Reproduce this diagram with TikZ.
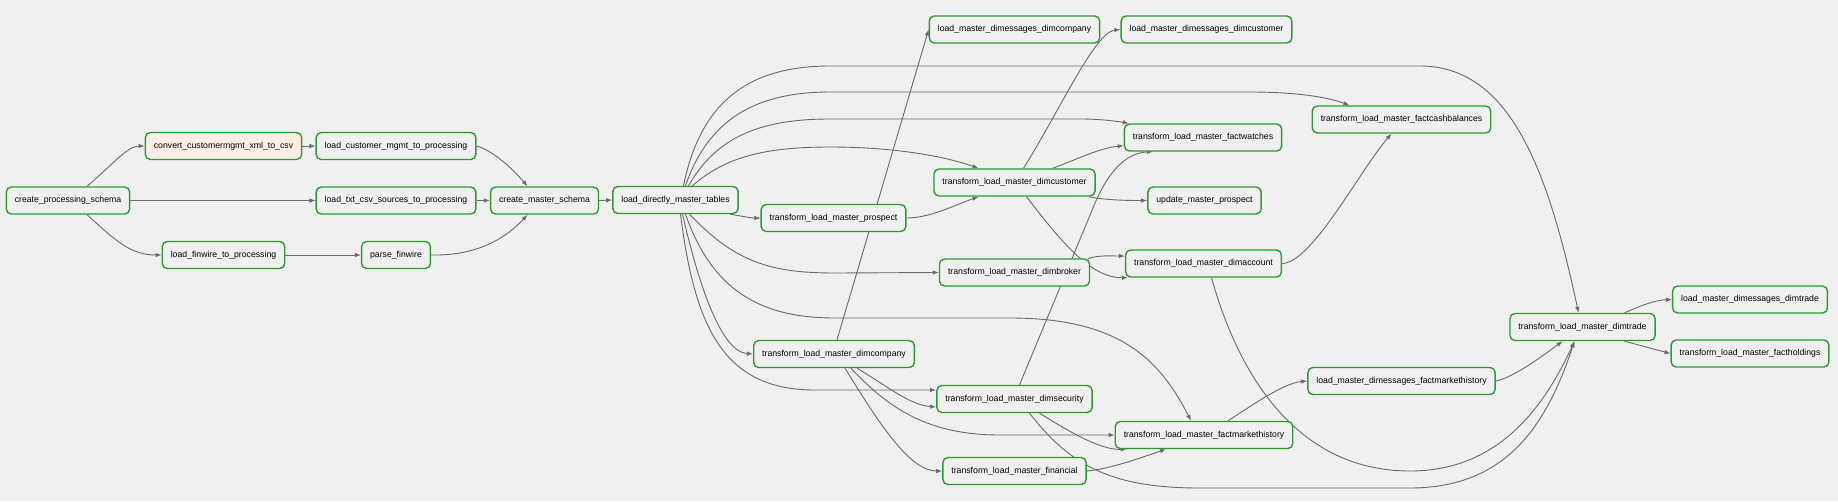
\documentclass[tikz,border=0pt]{standalone}
\usepackage{fontspec}
\setmainfont{Liberation Sans}
\usetikzlibrary{calc,arrows.meta,backgrounds}
\definecolor{bgc}{HTML}{F0F0F0}
\definecolor{nodefill}{HTML}{F0F0F0}
\definecolor{pinkfill}{HTML}{FDEFE6}
\definecolor{okgreen}{HTML}{2E9B2E}
\definecolor{edgec}{HTML}{6A6A6A}
\begin{document}
\begin{tikzpicture}[x=1pt,y=-1pt,
 box/.style={draw=okgreen,line width=1.4pt,rounded corners=5pt,fill=nodefill,minimum height=27pt,inner xsep=8.5pt,inner ysep=0pt,font=\fontsize{8.7}{10}\selectfont,text=black},
 queued/.style={fill=pinkfill},
 edge/.style={draw=edgec,line width=0.9pt,-{Latex[length=6pt,width=4.5pt]}}]
\useasboundingbox (0,0) rectangle (1838,501);

\node[box] (cps) at (68,200.5) {create\_processing\_schema};
\node[box,queued] (cxml) at (223.5,146) {convert\_customermgmt\_xml\_to\_csv};
\node[box] (lcm) at (396,146) {load\_customer\_mgmt\_to\_processing};
\node[box] (ltxt) at (396,200.5) {load\_txt\_csv\_sources\_to\_processing};
\node[box] (cms) at (544.5,200.5) {create\_master\_schema};
\node[box] (lfw) at (223.5,255) {load\_finwire\_to\_processing};
\node[box] (pfw) at (396,255) {parse\_finwire};
\node[box] (ldmt) at (675.5,200) {load\_directly\_master\_tables};
\node[box] (tprosp) at (833.5,218) {transform\_load\_master\_prospect};
\node[box] (mdcomp) at (1014.5,29.5) {load\_master\_dimessages\_dimcompany};
\node[box] (mdcust) at (1206.5,29.5) {load\_master\_dimessages\_dimcustomer};
\node[box] (tcust) at (1014.5,182.5) {transform\_load\_master\_dimcustomer};
\node[box] (twatch) at (1203,137.5) {transform\_load\_master\_factwatches};
\node[box] (uprosp) at (1204.5,200.5) {update\_master\_prospect};
\node[box] (tcash) at (1401.5,119.5) {transform\_load\_master\_factcashbalances};
\node[box] (tacct) at (1203.5,263.5) {transform\_load\_master\_dimaccount};
\node[box] (tbrok) at (1014.5,272.5) {transform\_load\_master\_dimbroker};
\node[box] (tcomp) at (834,354) {transform\_load\_master\_dimcompany};
\node[box] (tsec) at (1014.5,399) {transform\_load\_master\_dimsecurity};
\node[box] (tfmh) at (1204,435) {transform\_load\_master\_factmarkethistory};
\node[box] (tfin) at (1014.5,471) {transform\_load\_master\_financial};
\node[box] (mdfmh) at (1401.5,381) {load\_master\_dimessages\_factmarkethistory};
\node[box] (ttrade) at (1582.5,327) {transform\_load\_master\_dimtrade};
\node[box] (mdtrade) at (1750,299.5) {load\_master\_dimessages\_dimtrade};
\node[box] (thold) at (1750,353.5) {transform\_load\_master\_factholdings};

\begin{scope}[on background layer]
\fill[bgc] (0,0) rectangle (1838,501);
\draw[edge] ($(cps.north)+(19,0)$) .. controls (115,162) and (128,146) .. (cxml.west);
\draw[edge] (cps.east) -- (ltxt.west);
\draw[edge] ($(cps.south)+(19,0)$) .. controls (115,240) and (130,255) .. (lfw.west);
\draw[edge] (cxml.east) -- (lcm.west);
\draw[edge] (lcm.east) .. controls (492,150) and (512,168) .. ($(cms.north)+(-17,0)$);
\draw[edge] (ltxt.east) -- (cms.west);
\draw[edge] (lfw.east) -- (pfw.west);
\draw[edge] (pfw.east) .. controls (480,256) and (508,236) .. ($(cms.south)+(-17,0)$);
\draw[edge] (cms.east) -- (ldmt.west);
\draw[edge] ($(ldmt.north)+(8,0)$) .. controls (700,105) and (745,66) .. (830,66) -- (1420,66) .. controls (1510,66) and (1548,170) .. ($(ttrade.north)+(-4,0)$);
\draw[edge] ($(ldmt.north)+(10,0)$) .. controls (708,120) and (755,92) .. (830,92) -- (1250,92) .. controls (1300,92) and (1330,98) .. ($(tcash.north)+(-52,0)$);
\draw[edge] ($(ldmt.north)+(13,0)$) .. controls (715,140) and (755,119) .. (830,119) -- (1080,119) .. controls (1100,119) and (1115,121) .. ($(twatch.north west)+(5,0)$);
\draw[edge] ($(ldmt.north)+(17,0)$) .. controls (725,157) and (765,147) .. (830,147) .. controls (900,147) and (950,158) .. ($(tcust.north)+(-36,0)$);
\draw[edge] ($(ldmt.south east)+(-9,0)$) .. controls (742,216) and (750,218) .. (tprosp.west);
\draw[edge] ($(ldmt.south)+(14,0)$) .. controls (735,262) and (770,273) .. (835,273) -- (tbrok.west);
\draw[edge] ($(ldmt.south)+(10,0)$) .. controls (712,290) and (760,318) .. (835,318) -- (1010,318) .. controls (1120,318) and (1160,360) .. ($(tfmh.north)+(-13,0)$);
\draw[edge] ($(ldmt.south)+(7,0)$) .. controls (700,290) and (722,352) .. (tcomp.west);
\draw[edge] ($(ldmt.south)+(5,0)$) .. controls (695,330) and (725,390) .. (815,390) -- ($(tsec.west)+(0,-9)$);
\draw[edge] (tprosp.east) .. controls (930,218) and (955,205) .. ($(tcust.south)+(-36,0)$);
\draw[edge] ($(tcomp.north)+(3,0)$) -- (mdcomp.west);
\draw[edge] ($(tcust.north)+(9,0)$) .. controls (1060,110) and (1095,32) .. (mdcust.west);
\draw[edge] ($(tcust.north)+(38,0)$) .. controls (1080,158) and (1100,148) .. ($(twatch.south west)+(0,-6)$);
\draw[edge] ($(tcust.south east)+(-7,0)$) .. controls (1105,200) and (1125,200.5) .. (uprosp.west);
\draw[edge] ($(tcust.south)+(12,0)$) .. controls (1060,240) and (1090,278) .. ($(tacct.south west)+(3,0)$);
\draw[edge] ($(tbrok.east)+(-2,-14)$) .. controls (1100,255) and (1110,256) .. ($(tacct.west)+(0,-7.5)$);
\draw[edge] ($(tsec.north)+(5,0)$) -- (1093,208) .. controls (1101,188) and (1118,153) .. ($(twatch.south)+(-50,0)$);
\draw[edge] (tacct.east) .. controls (1312,263) and (1360,170) .. ($(tcash.south)+(-10,0)$);
\draw[edge] ($(tacct.south)+(8,0)$) .. controls (1240,380) and (1300,471) .. (1410,471) .. controls (1500,471) and (1545,405) .. ($(ttrade.south)+(-8,0)$);
\draw[edge] ($(tcomp.south)+(23,0)$) .. controls (890,388) and (910,405) .. ($(tsec.west)+(0,8)$);
\draw[edge] ($(tcomp.south)+(17,0)$) .. controls (890,410) and (930,435) .. (1000,435) -- (tfmh.west);
\draw[edge] ($(tcomp.south)+(11,0)$) .. controls (880,425) and (910,471) .. (tfin.west);
\draw[edge] ($(tsec.south)+(25,0)$) .. controls (1070,432) and (1100,450) .. ($(tfmh.south west)+(12,0)$);
\draw[edge] ($(tsec.south)+(15,0)$) .. controls (1070,465) and (1110,488) .. (1200,488) -- (1410,488) .. controls (1510,488) and (1548,420) .. ($(ttrade.south)+(-8,0)$);
\draw[edge] (mdfmh.east) .. controls (1512,378) and (1540,358) .. ($(ttrade.south)+(-20,0)$);
\draw[edge] ($(tfmh.north)+(24,0)$) .. controls (1260,400) and (1285,383) .. (mdfmh.west);
\draw[edge] (tfin.east) .. controls (1110,469) and (1140,458) .. ($(tfmh.south)+(-38,0)$);
\draw[edge] ($(ttrade.north)+(42,0)$) .. controls (1640,306) and (1655,300) .. (mdtrade.west);
\draw[edge] ($(ttrade.south)+(42,0)$) -- (thold.west);
\end{scope}
\end{tikzpicture}
\end{document}
